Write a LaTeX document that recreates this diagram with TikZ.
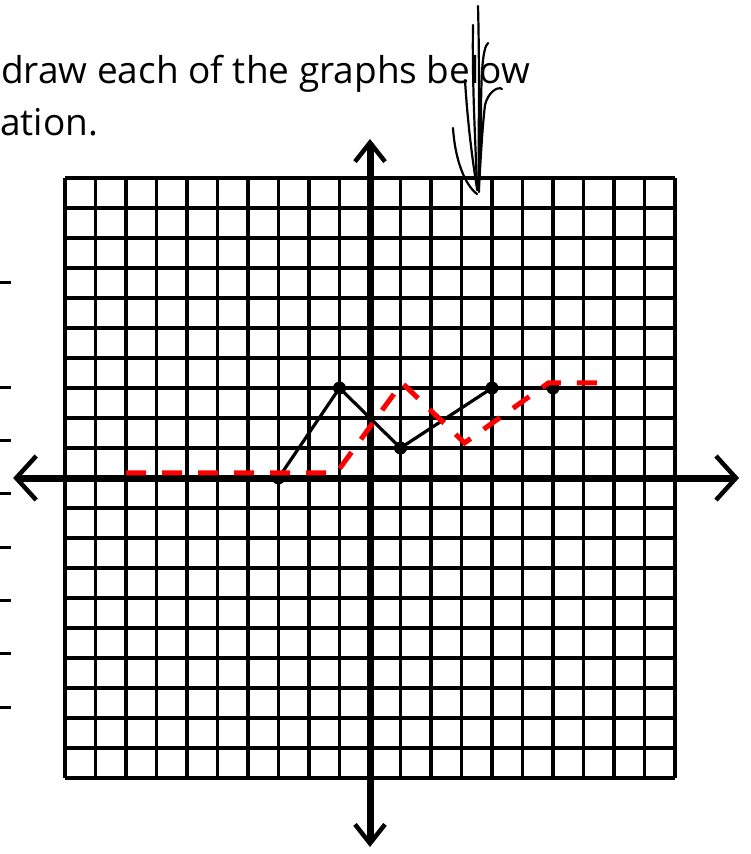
\documentclass[tikz,border=0pt]{standalone}
\usepackage{fontspec}
\setmainfont{Open Sans}
\usetikzlibrary{arrows.meta}

\begin{document}
\begin{tikzpicture}[
    x=1pt, y=-1pt,
    gridline/.style={draw, line width=3.2pt, black},
    haxis/.style={draw, line width=7pt, {Straight Barb[length=20pt, width=44pt, line width=4.5pt]}-{Straight Barb[length=20pt, width=44pt, line width=4.5pt]}},
    vaxis/.style={draw, line width=7pt, {Straight Barb[length=19pt, width=30pt, line width=4.5pt]}-{Straight Barb[length=19pt, width=30pt, line width=4.5pt]}},
    graph/.style={draw, line width=3.2pt, black},
    shifted/.style={draw, line width=5pt, color=red, dash pattern=on 20pt off 16pt},
    pen/.style={draw, line width=2.2pt, line cap=round},
    tick/.style={draw, line width=3pt},
    caption/.style={anchor=base west, inner sep=0pt, font=\fontsize{37}{44}\selectfont}
]
    \useasboundingbox (0,0) rectangle (750,854);

    % Instructions (cut off on the left)
    \node [caption] (line1) at (1,83) {draw each of the graphs below};
    \node [caption] (line2) at (0,135) {ation.};

    % Answer lines (cut off on the left)
    \foreach \ty in {282,387,440,493,547,600,653,707}
        \draw [tick] (0,\ty) -- (11,\ty);

    % Coordinate grid, origin at the centre
    \begin{scope}[shift={(370,478)}, x=30.5pt, y=30pt]
        \foreach \i in {-10,...,10} {
            \draw [gridline] (\i,-10) -- (\i,10);
            \draw [gridline] (-10,\i) -- (10,\i);
        }

        % Axes
        \coordinate (xl) at (-11.7,0);
        \coordinate (xr) at (12.1,0);
        \coordinate (yt) at (0,11.3);
        \coordinate (yb) at (0,-12.3);
        \path [haxis] (xl) -- (xr);
        \path [vaxis] (yb) -- (yt);

        % Original graph
        \coordinate (b1) at (-3,0);
        \coordinate (b2) at (-1,3);
        \coordinate (b3) at (1,1);
        \coordinate (b4) at (4,3);
        \coordinate (b5) at (6,3);
        \path [graph] (b1) -- (b2) -- (b3) -- (b4) -- (b5);
        \foreach \p in {b1,b2,b3,b4,b5}
            \fill (\p) circle [radius=6.5pt];

        % Shifted graph (red, dashed)
        \coordinate (r0) at (-8,0.17);
        \coordinate (r1) at (-1.1,0.17);
        \coordinate (r2) at (1.05,3.17);
        \coordinate (r3) at (3.1,1.17);
        \coordinate (r4) at (5.85,3.17);
        \coordinate (r5) at (7.8,3.17);
        \path [shifted] (r0) -- (r1) -- (r2) -- (r3) -- (r4) -- (r5);
    \end{scope}

    % Pen strokes over the text
    \draw [pen] (478,6) .. controls (480,80) and (478,150) .. (479,192);
    \draw [pen] (473,25) .. controls (472,90) and (476,150) .. (477,190);
    \draw [pen] (488,43) .. controls (482,48) and (481,80) .. (481,120) .. controls (481,150) and (479,175) .. (478,190);
    \draw [pen] (502,89) .. controls (498,86) and (488,92) .. (485,105) .. controls (482,130) and (480,170) .. (479,188);
    \draw [pen] (465,80) .. controls (468,130) and (474,170) .. (477,188);
    \draw [pen] (453,128) .. controls (455,160) and (465,185) .. (477,194);

\end{tikzpicture}
\end{document}
